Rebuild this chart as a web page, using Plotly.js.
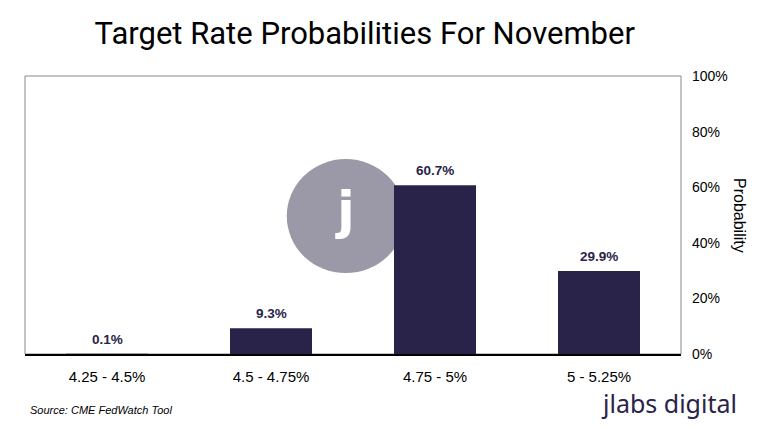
<!DOCTYPE html>
<html>
<head>
<meta charset="utf-8">
<script src="https://cdn.plot.ly/plotly-3.0.1.min.js"></script>
<style>html,body{margin:0;padding:0;background:#fff;}#chart{width:760px;height:437px;}</style>
</head>
<body>
<div id="chart"></div>
<script>
const categories = ["4.25 - 4.5%", "4.5 - 4.75%", "4.75 - 5%", "5 - 5.25%"];
const probabilities = [0.1, 9.3, 60.7, 29.9];
const labels = ["0.1%", "9.3%", "60.7%", "29.9%"];
const yTicks = [0, 20, 40, 60, 80, 100];
const yTickLabels = ["0%", "20%", "40%", "60%", "80%", "100%"];

const navy = "#2a2349";

const trace = {
  type: "bar",
  x: categories,
  y: probabilities,
  marker: {color: navy},
  hoverinfo: "skip"
};

const labelAnnotations = categories.map((c, i) => ({
  x: c, y: probabilities[i], xref: "x", yref: "y", text: "<b>" + labels[i] + "</b>",
  showarrow: false, xanchor: "center", yanchor: "bottom", yshift: 5,
  font: {family: "Liberation Sans, Arial, sans-serif", size: 13.5, color: navy}
}));

const layout = {
  width: 760, height: 437,
  margin: {l: 25, r: 79, t: 76, b: 83},
  paper_bgcolor: "#fff", plot_bgcolor: "rgba(0,0,0,0)",
  bargap: 0.5,
  showlegend: false,
  title: {text: "Target Rate Probabilities For November", x: 0.48, xanchor: "center", y: 0.925, yanchor: "middle",
    font: {family: "Liberation Sans Narrow, Roboto, sans-serif", size: 31, color: "#000"}},
  xaxis: {type: "category", showline: true, linecolor: "#000", linewidth: 1.5, ticks: "", ticklabelstandoff: 8,
    tickfont: {family: "Liberation Sans, Arial, sans-serif", size: 15, color: "#000"}, fixedrange: true},
  yaxis: {side: "right", range: [0, 100], tickvals: yTicks, ticktext: yTickLabels, showgrid: false, zeroline: false,
    showline: false, ticks: "", ticklabelstandoff: 10,
    tickfont: {family: "Liberation Sans, Arial, sans-serif", size: 14, color: "#000"}, fixedrange: true},
  shapes: [
    {type: "rect", xref: "paper", yref: "paper", x0: 0, x1: 1, y0: 0, y1: 1, line: {color: "#888", width: 1}, layer: "below"},
    {type: "circle", xref: "paper", yref: "paper", xsizemode: "pixel", ysizemode: "pixel",
      xanchor: 0.489, yanchor: 0.496, x0: -59, x1: 59, y0: -57, y1: 57,
      fillcolor: "#9b98a8", line: {width: 0}, layer: "below"}
  ],
  annotations: labelAnnotations.concat([
    {text: "<b>j</b>", xref: "paper", yref: "paper", x: 0.489, xshift: -1, y: 0.496, yshift: 6, showarrow: false,
      font: {family: "DejaVu Sans, sans-serif", size: 52, color: "#fff"}, xanchor: "center", yanchor: "middle"},
    {text: "Probability", xref: "paper", yref: "paper", x: 1.0, xshift: 59, y: 0.5, textangle: 90, showarrow: false,
      font: {family: "Liberation Sans, Arial, sans-serif", size: 16, color: "#000"}, xanchor: "center", yanchor: "middle"},
    {text: "<i>Source: CME FedWatch Tool</i>", xref: "paper", yref: "paper", x: 0, xshift: 3, y: 0, yshift: -56,
      showarrow: false, xanchor: "left", yanchor: "middle",
      font: {family: "Liberation Sans Narrow, Liberation Sans, sans-serif", size: 11, color: "#000"}},
    {text: "jlabs digital", xref: "paper", yref: "paper", x: 1, xshift: 58, y: 0, yshift: -49,
      showarrow: false, xanchor: "right", yanchor: "middle",
      font: {family: "Noto Sans, sans-serif", size: 25, color: navy}}
  ])
};

Plotly.newPlot("chart", [trace], layout, {displayModeBar: false, staticPlot: true});
</script>
</body>
</html>
